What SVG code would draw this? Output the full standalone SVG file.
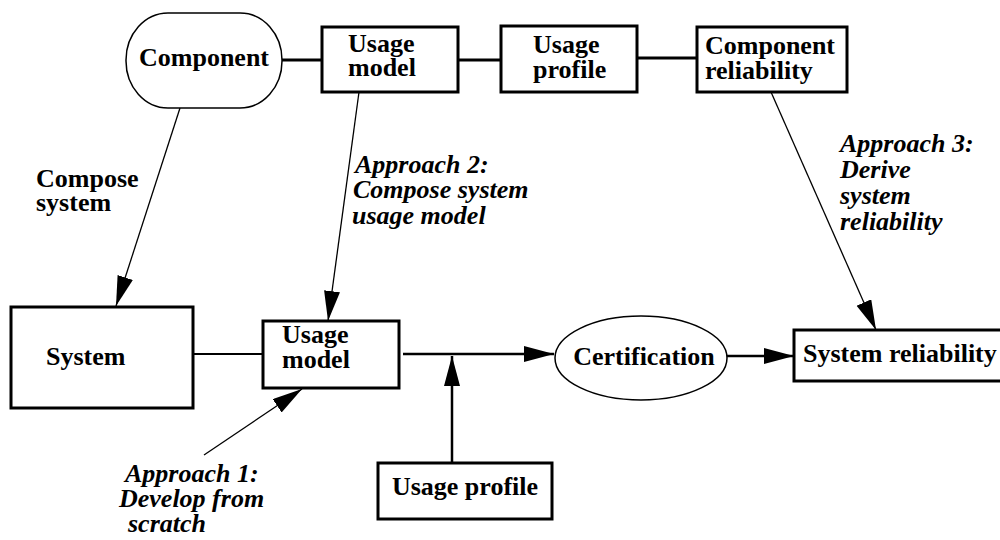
<svg xmlns="http://www.w3.org/2000/svg" width="1000" height="540" viewBox="0 0 1000 540">
<defs>
<style>
.box{fill:#fff;stroke:#000;stroke-width:3}
.thin{fill:#fff;stroke:#000;stroke-width:1.5}
.t{font-family:"Liberation Serif","Times New Roman",serif;font-weight:bold;font-size:26px;fill:#000}
.i{font-family:"Liberation Serif","Times New Roman",serif;font-weight:bold;font-style:italic;font-size:26px;fill:#000}
.c{stroke:#000;fill:none}
</style>
<marker id="ah" markerUnits="userSpaceOnUse" markerWidth="31" markerHeight="17" refX="30" refY="8" orient="auto" viewBox="0 0 31 17">
<path d="M0,0 L30,8 L0,16 z" fill="#000"/>
</marker>
</defs>
<rect width="1000" height="540" fill="#fff"/>
<g id="connectors">
<line class="c" x1="282" y1="60" x2="322" y2="60" stroke-width="3"/>
<line class="c" x1="458" y1="60" x2="501" y2="60" stroke-width="3"/>
<line class="c" x1="637" y1="58" x2="697" y2="58" stroke-width="3"/>
<line class="c" x1="180" y1="108" x2="116" y2="306" stroke-width="1.3" marker-end="url(#ah)"/>
<line class="c" x1="359" y1="92" x2="328" y2="321" stroke-width="1.3" marker-end="url(#ah)"/>
<line class="c" x1="771" y1="92" x2="876" y2="330" stroke-width="1.3" marker-end="url(#ah)"/>
<line class="c" x1="204" y1="455" x2="302" y2="389" stroke-width="1.3" marker-end="url(#ah)"/>
<line class="c" x1="193" y1="354" x2="263" y2="354" stroke-width="2"/>
<line class="c" x1="403" y1="354" x2="554" y2="354" stroke-width="2.5" marker-end="url(#ah)"/>
<line class="c" x1="452" y1="463" x2="452" y2="356" stroke-width="2.5" marker-end="url(#ah)"/>
<line class="c" x1="727" y1="356" x2="794" y2="356" stroke-width="2.5" marker-end="url(#ah)"/>
</g>
<g id="component">
<rect class="thin" x="126" y="13" width="156" height="95" rx="42" ry="47"/>
<text class="t" x="204" y="66" text-anchor="middle">Component</text>
</g>
<g id="usage-model-top">
<rect class="box" x="322" y="27" width="136" height="65"/>
<text class="t" x="348" y="52">Usage</text>
<text class="t" x="348" y="76">model</text>
</g>
<g id="usage-profile-top">
<rect class="box" x="501" y="26" width="136" height="66"/>
<text class="t" x="533" y="53">Usage</text>
<text class="t" x="533" y="78">profile</text>
</g>
<g id="component-reliability">
<rect class="box" x="697" y="27" width="150" height="65"/>
<text class="t" x="705" y="54">Component</text>
<text class="t" x="705" y="79">reliability</text>
</g>
<g id="system">
<rect class="box" x="11" y="307" width="182" height="101"/>
<text class="t" x="46" y="365">System</text>
</g>
<g id="usage-model">
<rect class="box" x="263" y="321" width="136" height="67"/>
<text class="t" x="282" y="343">Usage</text>
<text class="t" x="282" y="368">model</text>
</g>
<g id="certification">
<ellipse class="thin" cx="641" cy="358" rx="86" ry="42"/>
<text class="t" x="644" y="365" text-anchor="middle">Certification</text>
</g>
<g id="system-reliability">
<rect class="box" x="794" y="330" width="210" height="51"/>
<text class="t" x="803" y="362">System reliability</text>
</g>
<g id="usage-profile">
<rect class="box" x="378" y="463" width="174" height="56"/>
<text class="t" x="465" y="495" text-anchor="middle">Usage profile</text>
</g>
<g id="labels">
<text class="t" x="36" y="187">Compose</text>
<text class="t" x="36" y="211">system</text>
<text class="i" x="355" y="173">Approach 2:</text>
<text class="i" x="353" y="198">Compose system</text>
<text class="i" x="352" y="224">usage model</text>
<text class="i" x="840" y="152">Approach 3:</text>
<text class="i" x="840" y="178">Derive</text>
<text class="i" x="840" y="204">system</text>
<text class="i" x="840" y="230">reliability</text>
<text class="i" x="125" y="482">Approach 1:</text>
<text class="i" x="119" y="507">Develop from</text>
<text class="i" x="128" y="532">scratch</text>
</g>
</svg>
